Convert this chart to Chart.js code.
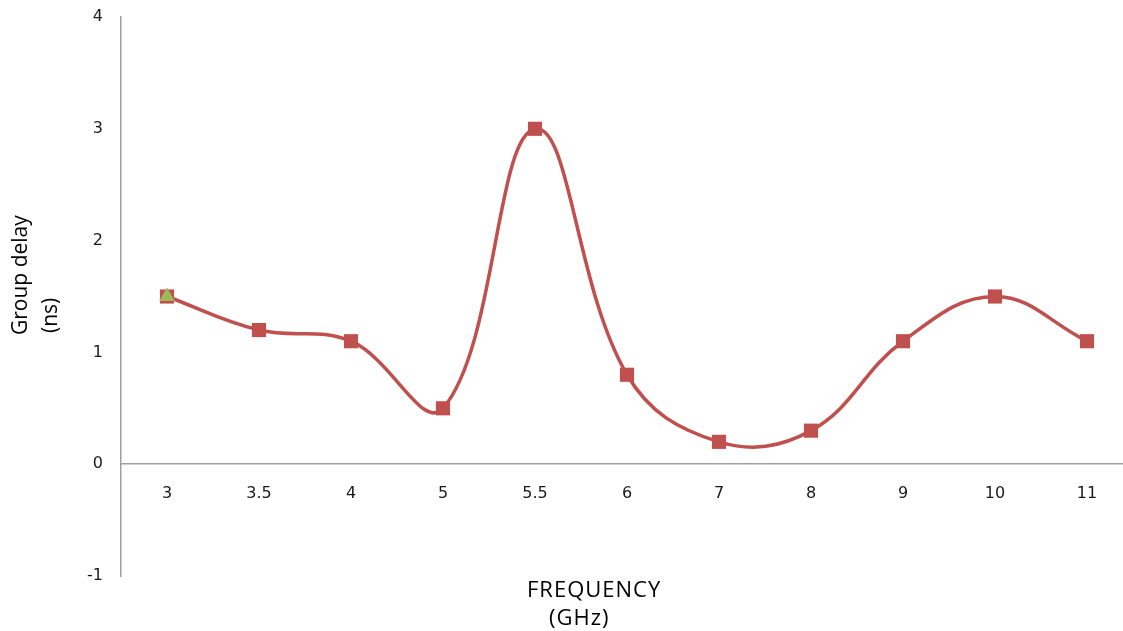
<!DOCTYPE html>
<html>
<head>
<meta charset="utf-8">
<script src="https://cdn.jsdelivr.net/npm/chart.js@4"></script>
<style>
  html, body { margin: 0; padding: 0; background: #fff; overflow: hidden; }
  canvas { display: block; }
</style>
</head>
<body>
<canvas id="delayChart" width="1133" height="631"></canvas>
<script>
// frequency points (GHz) and measured group delay (ns)
const frequencies = ['3', '3.5', '4', '5', '5.5', '6', '7', '8', '9', '10', '11'];
const groupDelay = [1.5, 1.2, 1.1, 0.5, 3, 0.8, 0.2, 0.3, 1.1, 1.5, 1.1];
// second series, only the first point (green triangle)
const markerSeries = [1.5, null, null, null, null, null, null, null, null, null, null];
const yMin = -1;
const yMax = 4;

// axis titles drawn by hand, Excel puts them off-centre
const axisTitles = {
  id: 'axisTitles',
  afterDraw(chart) {
    const ctx = chart.ctx;
    ctx.save();
    ctx.fillStyle = '#000';
    ctx.textAlign = 'left';
    ctx.textBaseline = 'alphabetic';
    ctx.font = '22px "Open Sans"';
    ctx.letterSpacing = '1px';
    ctx.fillText('FREQUENCY', 527, 597);
    ctx.fillText('(GHz)', 549, 625);

    ctx.letterSpacing = '0px';
    ctx.font = '21px "Open Sans"';
    ctx.save();
    ctx.translate(27, 335);
    ctx.rotate(-Math.PI / 2);
    ctx.fillText('Group delay', 0, 0);
    ctx.restore();
    ctx.save();
    ctx.translate(57, 333);
    ctx.rotate(-Math.PI / 2);
    ctx.fillText('(ns)', 0, 0);
    ctx.restore();
    ctx.restore();
  }
};

const ctx = document.getElementById('delayChart').getContext('2d');
new Chart(ctx, {
  type: 'line',
  data: {
    labels: frequencies,
    datasets: [
      {
        label: 'marker',
        data: markerSeries,
        showLine: false,
        pointStyle: 'triangle',
        pointRadius: 9,
        pointBackgroundColor: '#9bbb59',
        pointBorderColor: '#9bbb59',
        pointBorderWidth: 0
      },
      {
        label: 'Group delay',
        data: groupDelay,
        borderColor: '#c0504d',
        borderWidth: 3.5,
        tension: 0.4,
        pointStyle: 'rect',
        pointRadius: 10,
        pointBackgroundColor: '#c0504d',
        pointBorderColor: '#c0504d',
        pointBorderWidth: 0
      }
    ]
  },
  options: {
    responsive: false,
    animation: false,
    layout: { autoPadding: false, padding: { top: 17, bottom: 55, left: 0, right: 0 } },
    plugins: {
      legend: { display: false },
      tooltip: { enabled: false }
    },
    scales: {
      x: {
        type: 'category',
        position: { y: 0 },
        offset: true,
        grid: { display: false, drawTicks: false },
        border: { display: true, color: '#a0a0a0', width: 1.5 },
        ticks: {
          color: '#1a1a1a',
          font: { family: 'DejaVu Sans', size: 16 },
          padding: 20,
          maxRotation: 0
        }
      },
      y: {
        min: yMin,
        max: yMax,
        // invisible tick marks give the label gap without padding the top
        grid: { display: true, drawOnChartArea: false, drawTicks: true, tickLength: 18, color: 'rgba(0,0,0,0)' },
        border: { display: true, color: '#a0a0a0', width: 1.5 },
        ticks: {
          stepSize: 1,
          color: '#1a1a1a',
          font: { family: 'DejaVu Sans', size: 16 },
          padding: 0
        },
        afterFit(scale) { scale.width = 121; }
      }
    }
  },
  plugins: [axisTitles]
});
</script>
</body>
</html>
